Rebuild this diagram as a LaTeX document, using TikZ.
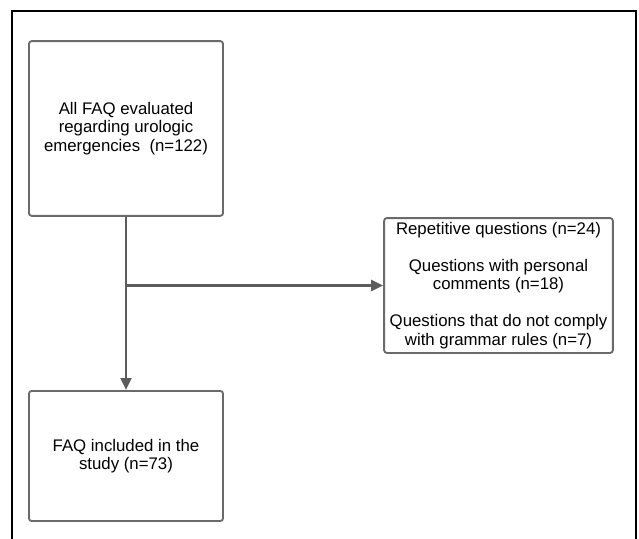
\documentclass[tikz,border=0pt]{standalone}
\usepackage{fontspec}
\setmainfont{Liberation Sans}
\usepackage{tikz}
\usetikzlibrary{positioning, arrows.meta}
\usepackage{xcolor}
\definecolor{boxline}{HTML}{6A6A6A}
\definecolor{flowline}{HTML}{5C5C5C}

\begin{document}
\begin{tikzpicture}[
      x=0.75pt, y=-0.75pt,
      faqbox/.style={draw=boxline, line width=1.4pt, rounded corners=2pt,
          font=\fontsize{12.6}{13.9}\selectfont, align=center, inner sep=3pt},
      flow/.style={draw=flowline, line width=2.2pt,
          -{Triangle[length=9pt, width=8pt]}},
    ]
    \useasboundingbox (0,0) rectangle (639,539);

    % Outer frame (open at the bottom)
    \draw[line width=1pt] (12,539) -- (12,11) -- (636,11) -- (636,539);

    % Boxes
    \node[faqbox, minimum width=145.5pt, minimum height=131pt] (all) at (126,128.5)
    {All FAQ evaluated\\regarding urologic\\emergencies~~(n=122)};
    \node[faqbox, minimum width=145.5pt, minimum height=97.5pt] (incl) at (126,456)
    {FAQ included in the\\study (n=73)};
    \node[faqbox, minimum width=171.5pt, minimum height=101pt] (excl) at (498.5,285.5)
    {Repetitive questions (n=24)\\[13.9pt]
      Questions with personal\\comments (n=18)\\[13.9pt]
      Questions that do not comply\\with grammar rules (n=7)};

    % Connectors
    \draw[flow] (all.south) -- (incl.north);
    \coordinate (split) at (all.south |- excl.west);
    \draw[flow] (split) -- (excl.west);
  \end{tikzpicture}
\end{document}
